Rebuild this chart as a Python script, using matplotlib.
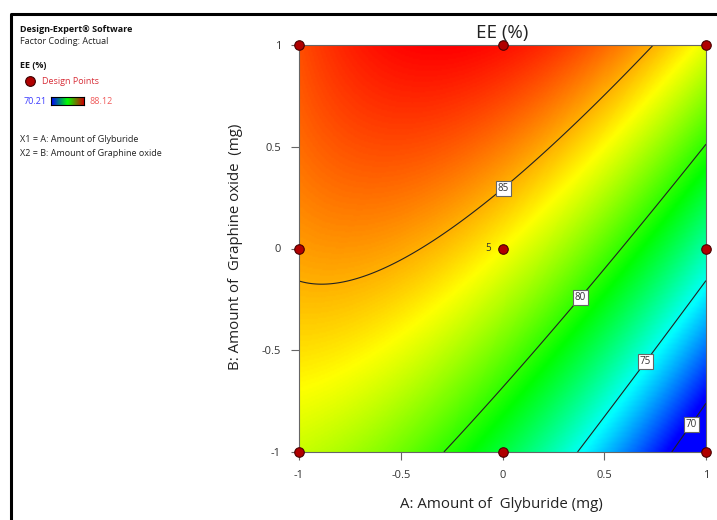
import numpy as np
import matplotlib
matplotlib.use("Agg")
import matplotlib.pyplot as plt
from matplotlib.colors import LinearSegmentedColormap
from matplotlib.lines import Line2D

plt.rcParams["font.family"] = ["Open Sans", "DejaVu Sans"]

# Coded factor levels of the 3x3 design (A: Glyburide, B: Graphine oxide).
factor_levels = [-1, 0, 1]
# EE (%) at the design points, rows B = -1, 0, 1; columns A = -1, 0, 1.
ee_values = [[82.65, 78.11, 67.88],
             [85.34, 83.63, 76.23],
             [86.73, 87.84, 83.27]]
center_replicates = 5
ee_min, ee_max = 70.21, 88.12
contour_levels = [70, 75, 80, 85]
tick_values = [-1, -0.5, 0, 0.5, 1]
tick_labels = ["-1", "-0.5", "0", "0.5", "1"]


def terms(a, b):
    # Full quadratic model terms.
    return np.array([np.ones_like(a), a, b, a * b, a * a, b * b]).T


ga, gb = np.meshgrid(factor_levels, factor_levels)
ga = ga.ravel().astype(float)
gb = gb.ravel().astype(float)
coef, *_ = np.linalg.lstsq(terms(ga, gb), np.ravel(ee_values), rcond=None)

cmap = LinearSegmentedColormap.from_list(
    "de", ["#0000ff", "#00ffff", "#00ff00", "#ffff00", "#ff0000"])

W, H = 717, 520
fig = plt.figure(figsize=(W / 100, H / 100), dpi=100)


def fx(x):
    return x / W


def fy(y):
    return 1 - y / H


ax = fig.add_axes([fx(299), fy(452), fx(706) - fx(299), fy(45) - fy(452)])

av = np.linspace(-1, 1, 300)
AA, BB = np.meshgrid(av, av)
ZZ = (terms(AA.ravel(), BB.ravel()) @ coef).reshape(AA.shape)

ax.imshow(ZZ, extent=(-1, 1, -1, 1), origin="lower", cmap=cmap,
          vmin=ee_min, vmax=ee_max, aspect="auto", interpolation="bilinear")
cs = ax.contour(AA, BB, ZZ, levels=contour_levels, colors="#222222",
                linewidths=0.8)
labels = ax.clabel(cs, fmt="%d", fontsize=7, inline=False,
                   manual=[(0.916, -0.857), (0.69, -0.548), (0.371, -0.233), (0, 0.302)])
for t in labels:
    t.set_rotation(0)
    t.set_color("#333333")
    t.set_bbox(dict(facecolor="white", edgecolor="#666666", pad=1.4, linewidth=0.8))

# Design points.
ax.scatter(ga, gb, s=47, c="#b00000", edgecolors="#4a0000",
           linewidths=0.8, zorder=5, clip_on=False)
ax.annotate(str(center_replicates), (0, 0), xytext=(-8, 0), textcoords="offset points",
            ha="right", va="center", fontsize=7, color="#333333")

ax.set_xlim(-1, 1)
ax.set_ylim(-1, 1)
ax.set_xticks(tick_values)
ax.set_yticks(tick_values)
ax.set_xticklabels(tick_labels)
ax.set_yticklabels(tick_labels)
ax.tick_params(length=6, width=0.8, color="#666666", labelcolor="#333333",
               labelsize=8, pad=7)
for s in ax.spines.values():
    s.set_color("#666666")
    s.set_linewidth(0.8)

fig.text(fx(502), fy(33), "EE (%)", ha="center", va="center", fontsize=13.5, color="#222222")
fig.text(fx(501), fy(505), "A: Amount of  Glyburide (mg)", ha="center", va="center",
         fontsize=10.8, color="#222222")
fig.text(fx(235), fy(247), "B: Amount of  Graphine oxide  (mg)", ha="center", va="center",
         fontsize=10.8, color="#222222", rotation=90)

# Left info panel.
fig.text(fx(20), fy(29), "Design-Expert® Software", fontsize=6.5, fontweight="bold",
         va="center", color="#111111")
fig.text(fx(20), fy(42), "Factor Coding: Actual", fontsize=6.5, va="center", color="#222222")
fig.text(fx(20), fy(66), "EE (%)", fontsize=6.5, fontweight="bold", va="center", color="#111111")
fig.add_artist(Line2D([fx(30)], [fy(81)], marker="o", markersize=7, color="#b00000",
                      markeredgecolor="#3a0000", markeredgewidth=0.8))
fig.text(fx(42), fy(81), "Design Points", fontsize=6.5, va="center", color="#d8303a")
fig.text(fx(24), fy(101), f"{ee_min:.2f}", fontsize=6.5, va="center", color="#3a3aff")
fig.text(fx(89), fy(101), f"{ee_max:.2f}", fontsize=6.5, va="center", color="#f05a5a")
cax = fig.add_axes([fx(51), fy(105), fx(84) - fx(51), fy(97) - fy(105)])
cax.imshow(np.linspace(0, 1, 100)[None, :], cmap=LinearSegmentedColormap.from_list(
    "lg", ["#0000ff", "#00ff00", "#cc0000"]), aspect="auto")
cax.set_xticks([])
cax.set_yticks([])
for s in cax.spines.values():
    s.set_linewidth(0.8)
fig.text(fx(20), fy(140), "X1 = A: Amount of Glyburide", fontsize=6.5, va="center", color="#222222")
fig.text(fx(20), fy(153), "X2 = B: Amount of Graphine oxide", fontsize=6.5, va="center", color="#222222")

# Outer frame.
fig.add_artist(Line2D([fx(11), fx(11), 1], [0, fy(14), fy(14)], color="black", linewidth=2.2))

fig.savefig("out.png", dpi=100)
